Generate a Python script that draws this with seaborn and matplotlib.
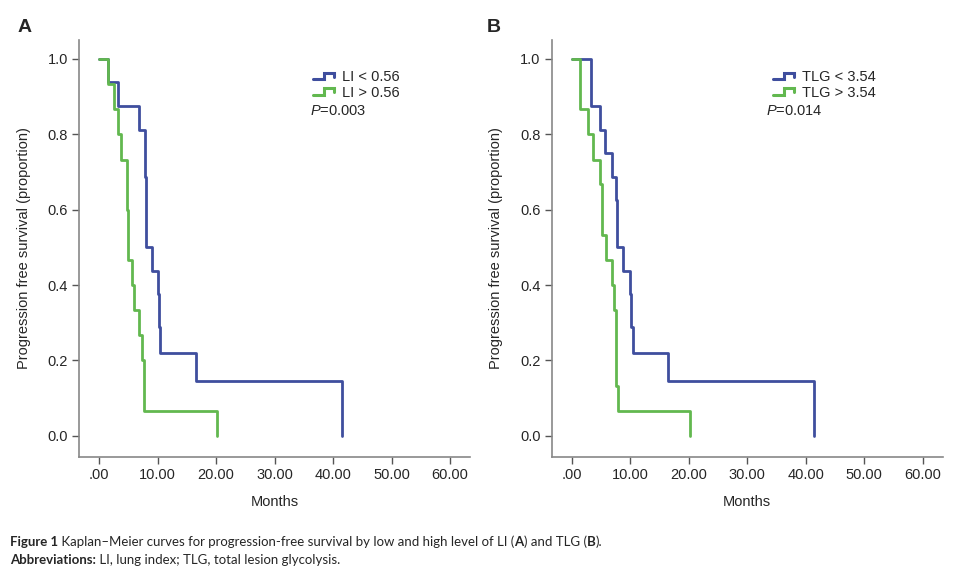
import seaborn as sns
import matplotlib.pyplot as plt
import pandas as pd
from matplotlib.legend_handler import HandlerBase
from matplotlib.lines import Line2D

# Panel A: lung index (LI)
li_low_months = [0, 1.6, 3.3, 6.9, 7.86, 7.95, 8.1, 9.0, 10.1, 10.2, 10.5, 16.6, 41.6]
li_low_surv = [1.0, 0.9375, 0.875, 0.8125, 0.6875, 0.625, 0.5, 0.4375, 0.375, 0.29, 0.22, 0.146, 0.0]
li_high_months = [0, 1.6, 2.6, 3.2, 3.8, 4.7, 5.0, 5.7, 5.9, 6.8, 7.3, 7.7, 20.1]
li_high_surv = [1.0, 0.933, 0.867, 0.8, 0.733, 0.6, 0.467, 0.4, 0.333, 0.267, 0.2, 0.067, 0.0]

# Panel B: total lesion glycolysis (TLG)
tlg_low_months = [0, 3.3, 4.8, 5.7, 6.8, 7.6, 7.8, 8.8, 10.0, 10.1, 10.4, 16.4, 41.4]
tlg_low_surv = [1.0, 0.875, 0.8125, 0.75, 0.6875, 0.625, 0.5, 0.4375, 0.375, 0.29, 0.22, 0.146, 0.0]
tlg_high_months = [0, 1.5, 2.7, 3.7, 4.8, 5.1, 5.8, 6.9, 7.2, 7.5, 7.9, 20.2]
tlg_high_surv = [1.0, 0.867, 0.8, 0.733, 0.667, 0.533, 0.467, 0.4, 0.333, 0.133, 0.067, 0.0]

x_ticks = [0, 10, 20, 30, 40, 50, 60]
x_tick_labels = [".00", "10.00", "20.00", "30.00", "40.00", "50.00", "60.00"]
y_ticks = [0.0, 0.2, 0.4, 0.6, 0.8, 1.0]

BLUE = "#3f4e9e"
GREEN = "#62b84f"

sns.set_style("ticks")
plt.rcParams['font.family'] = ['Liberation Sans', 'DejaVu Sans']
plt.rcParams['mathtext.fontset'] = 'custom'
plt.rcParams['mathtext.it'] = 'Liberation Sans:italic'
plt.rcParams['mathtext.rm'] = 'Liberation Sans'


class StepHandler(HandlerBase):
    # little step glyph used in the SPSS style legend
    def create_artists(self, legend, orig_handle, xdescent, ydescent,
                       width, height, fontsize, trans):
        xs = [0, 0.45, 0.45, 0.9, 0.9]
        ys = [0.2, 0.2, 0.85, 0.85, 0.45]
        line = Line2D([x * width - xdescent for x in xs],
                      [y * height - ydescent for y in ys],
                      color=orig_handle.get_color(), lw=2.2,
                      solid_joinstyle='miter')
        line.set_transform(trans)
        return [line]


def km_panel(ax, low_t, low_s, high_t, high_s, labels, pval, leg_x, p_x):
    df = pd.concat([
        pd.DataFrame({"Months": low_t, "surv": low_s, "group": labels[0]}),
        pd.DataFrame({"Months": high_t, "surv": high_s, "group": labels[1]}),
    ])
    sns.lineplot(data=df, x="Months", y="surv", hue="group",
                 palette=[BLUE, GREEN], estimator=None, sort=False,
                 drawstyle="steps-post", linewidth=2.0, legend=False, ax=ax)

    ax.set_xlim(-3.42, 63.4)
    ax.set_ylim(-0.056, 1.05)
    ax.set_xticks(x_ticks)
    ax.set_xticklabels(x_tick_labels)
    ax.set_yticks(y_ticks)
    ax.set_yticklabels([f"{v:.1f}" for v in y_ticks])
    ax.tick_params(labelsize=10.5, length=5, width=1, color="#555555", pad=3)
    ax.set_xlabel("Months", fontsize=10.5, labelpad=9)
    ax.set_ylabel("Progression free survival (proportion)", fontsize=10.5, labelpad=12)
    for side in ["top", "right"]:
        ax.spines[side].set_visible(False)
    for side in ["left", "bottom"]:
        ax.spines[side].set_color("#888888")
        ax.spines[side].set_linewidth(1.2)

    handles = [Line2D([], [], color=BLUE), Line2D([], [], color=GREEN)]
    ax.legend(handles, labels, handler_map={Line2D: StepHandler()},
              loc="upper left", bbox_to_anchor=(leg_x, 0.945), frameon=False,
              fontsize=10.5, borderpad=0, handlelength=1.6, handletextpad=0.4,
              labelspacing=0.1)
    ax.text(p_x, 0.83, f"$P$={pval}", transform=ax.transAxes,
            fontsize=10.5, va="center", ha="left")


fig = plt.figure(figsize=(9.57, 5.75), dpi=100)
ax_a = fig.add_axes([79 / 957, 1 - 457 / 575, 391 / 957, 417 / 575])
ax_b = fig.add_axes([551.7 / 957, 1 - 457 / 575, 391 / 957, 417 / 575])

km_panel(ax_a, li_low_months, li_low_surv, li_high_months, li_high_surv,
         ["LI < 0.56", "LI > 0.56"], "0.003", 0.58, 0.591)
km_panel(ax_b, tlg_low_months, tlg_low_surv, tlg_high_months, tlg_high_surv,
         ["TLG < 3.54", "TLG > 3.54"], "0.014", 0.548, 0.548)

fig.text(18 / 957, 1 - 27 / 575, "A", fontsize=14, fontweight="bold", va="center")
fig.text(487 / 957, 1 - 27 / 575, "B", fontsize=14, fontweight="bold", va="center")

# caption, built from bold / regular pieces placed one after another on a baseline
cap_font = ['Lato', 'DejaVu Sans']
renderer = fig.canvas.get_renderer()


def caption_line(pieces, x_px, y_px):
    x = x_px
    for txt, bold in pieces:
        t = fig.text(x / 957, 1 - y_px / 575, txt, fontsize=9.5,
                     fontweight="bold" if bold else "normal", family=cap_font,
                     va="baseline", ha="left")
        x += t.get_window_extent(renderer=renderer).width


caption_line([("Figure 1", True),
              (" Kaplan\u2013Meier curves for progression-free survival by low and high level of LI (", False),
              ("A", True), (") and TLG (", False), ("B", True), (").", False)],
             10, 546)
caption_line([("Abbreviations:", True), (" LI, lung index; TLG, total lesion glycolysis.", False)],
             10, 564)

fig.savefig("out.png", dpi=100)
